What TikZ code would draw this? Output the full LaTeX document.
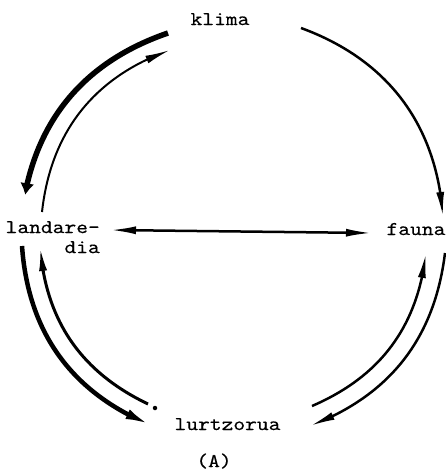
\documentclass[tikz,border=0pt]{standalone}
\usepackage{fontspec}
\newfontfamily\lbltt[FakeStretch=1.15,FakeBold=0.2]{lmmono10-regular.otf}
\usetikzlibrary{arrows.meta,bending}
\begin{document}
\begin{tikzpicture}[x=1pt,y=1pt,
  lbl/.style={font=\lbltt\fontsize{19.5}{20}\selectfont, inner sep=0pt},
  tipthin/.style={-{Latex[length=25pt,width=8pt,flex]}},
  arcw/.style={line width=#1, line cap=butt},
  dotnode/.style={circle, fill=black, inner sep=0pt, minimum size=4.5pt}]
\useasboundingbox (0,0) rectangle (446,-472);
% labels
\node[lbl, anchor=base] (klima) at (220,-25) {klima};
\node[lbl, anchor=north east, align=right] (landare) at (100,-221) {landare-\\dia};
\node[lbl, anchor=base] (fauna) at (416,-235) {fauna};
\node[lbl, anchor=base] (lurtzorua) at (227.5,-430) {lurtzorua};
\node[lbl, anchor=base] (A) at (214,-467) {(A)};
% arc end points
\coordinate (a1s) at (168,-33);  \coordinate (a1e) at (22,-213);
\coordinate (a2s) at (42,-212);  \coordinate (a2e) at (170,-50);
\coordinate (a3s) at (301,-28);  \coordinate (a3e) at (443,-217);
\coordinate (a4s) at (22,-246);  \coordinate (a4e) at (153,-426);
\coordinate (a5s) at (148,-404); \coordinate (a5e) at (40,-246);
\coordinate (a6s) at (312,-406); \coordinate (a6e) at (426,-253);
\coordinate (a7s) at (445,-253); \coordinate (a7e) at (310,-426);
\coordinate (h1) at (110,-230);  \coordinate (h2) at (372,-233);
% klima - landaredia
\draw[arcw=5.5pt, -{Latex[length=30pt,width=10pt,flex]}] (a1s) to[bend right=32] (a1e);
\draw[arcw=2pt, tipthin] (a2s) to[bend left=32] (a2e);
% klima - fauna
\draw[arcw=2.5pt, tipthin] (a3s) to[bend left=33] (a3e);
% landaredia - lurtzorua
\draw[arcw=4.5pt, -{Latex[length=28pt,width=10pt,flex]}] (a4s) to[bend right=32] (a4e);
\draw[arcw=3pt, tipthin] (a5s) to[bend left=30] (a5e);
\node[dotnode] (dot) at (155,-408) {};
% lurtzorua - fauna
\draw[arcw=2.5pt, tipthin] (a6s) to[bend right=30] (a6e);
\draw[arcw=2.5pt, tipthin] (a7s) to[bend left=31] (a7e);
% landaredia - fauna
\draw[line width=2.5pt, {Latex[length=26pt,width=8pt]}-{Latex[length=26pt,width=8pt]}] (h1) -- (h2);
\end{tikzpicture}
\end{document}
